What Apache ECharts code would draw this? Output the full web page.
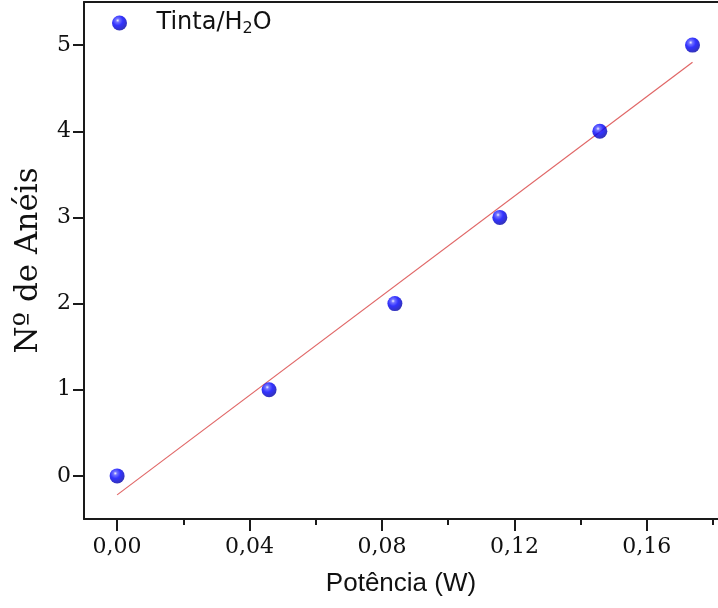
<!DOCTYPE html>
<html>
<head>
<meta charset="utf-8">
<script src="https://cdn.jsdelivr.net/npm/echarts@6/dist/echarts.min.js"></script>
<style>html,body{margin:0;padding:0;background:#fff;}#c{width:718px;height:608px;}</style>
</head>
<body>
<div id="c"></div>
<script>
// Data
var potencia = [0.0, 0.0459, 0.0839, 0.1156, 0.1458, 0.1738];
var aneis = [0, 1, 2, 3, 4, 5];
var fitX = [0.0, 0.1738];
var fitY = [-0.22, 4.80];
var xMajorTicks = [0, 0.04, 0.08, 0.12, 0.16];
var xMinorTicks = [0.02, 0.06, 0.10, 0.14, 0.18];
var yTicks = [0, 1, 2, 3, 4, 5];
var seriesName = 'Tinta/H2O';

var pts = potencia.map(function (x, i) { return [x, aneis[i]]; });
var fit = fitX.map(function (x, i) { return [x, fitY[i]]; });

var ball = {
  type: 'radial', x: 0.38, y: 0.33, r: 0.68,
  colorStops: [
    { offset: 0, color: '#f0f0ff' },
    { offset: 0.18, color: '#5050ff' },
    { offset: 0.5, color: '#0000ff' },
    { offset: 1, color: '#0000a8' }
  ]
};

var axisColor = '#1a1a1a';
var XMIN = -0.01, XMAX = 0.1815;
var chart = echarts.init(document.getElementById('c'), null, { renderer: 'canvas' });
chart.setOption({
  animation: false,
  backgroundColor: '#fff',
  grid: { left: 84, top: 2, right: 0, height: 517 },
  legend: {
    left: 107, top: 6,
    itemWidth: 64, itemHeight: 15,
    data: [seriesName],
    formatter: function () { return '{a|Tinta/H}{s|2}{a|O}'; },
    textStyle: {
      rich: {
        a: { fontFamily: 'DejaVu Sans', fontSize: 24, color: '#111' },
        s: { fontFamily: 'DejaVu Sans', fontSize: 16, color: '#111', verticalAlign: 'bottom', padding: [12, 0, 0, 0] }
      }
    }
  },
  xAxis: [{
    type: 'value', min: XMIN, max: XMAX,
    name: 'Potência (W)', nameLocation: 'middle', nameGap: 52,
    nameTextStyle: { fontFamily: 'Liberation Sans', fontSize: 26, color: '#111' },
    axisLine: { show: true, onZero: false, lineStyle: { color: axisColor, width: 2 } },
    axisTick: { show: true, inside: false, length: 12, customValues: xMajorTicks, lineStyle: { color: axisColor, width: 2 } },
    axisLabel: { customValues: xMajorTicks, margin: 17, fontFamily: 'DejaVu Serif', fontSize: 22, color: '#111',
      formatter: function (v) { return v.toFixed(2).replace('.', ','); } },
    splitLine: { show: false }
  }, {
    type: 'value', min: XMIN, max: XMAX, position: 'bottom',
    axisLine: { show: false, onZero: false },
    axisTick: { show: true, inside: false, length: 6, customValues: xMinorTicks, lineStyle: { color: axisColor, width: 2 } },
    axisLabel: { show: false },
    splitLine: { show: false }
  }, {
    type: 'value', min: XMIN, max: XMAX, position: 'top',
    axisLine: { show: true, onZero: false, lineStyle: { color: axisColor, width: 2 } },
    axisTick: { show: false },
    axisLabel: { show: false },
    splitLine: { show: false }
  }],
  yAxis: {
    type: 'value', min: -0.5, max: 5.5,
    name: 'Nº de Anéis', nameLocation: 'middle', nameGap: 40, nameRotate: 90,
    nameTextStyle: { fontFamily: 'DejaVu Serif', fontSize: 31, color: '#111' },
    axisLine: { show: true, onZero: false, lineStyle: { color: axisColor, width: 2 } },
    axisTick: { show: true, inside: false, length: 11, customValues: yTicks, lineStyle: { color: axisColor, width: 2 } },
    axisLabel: { customValues: yTicks, margin: 13, fontFamily: 'DejaVu Serif', fontSize: 22, color: '#111' },
    splitLine: { show: false }
  },
  series: [{
    name: seriesName, type: 'scatter', data: pts, symbol: 'circle', symbolSize: 15,
    itemStyle: { color: ball }, z: 5
  }, {
    name: 'fit', type: 'line', data: fit, showSymbol: false, symbol: 'none',
    lineStyle: { color: '#e06666', width: 1.2 }, z: 3, silent: true
  }]
});
</script>
</body>
</html>
